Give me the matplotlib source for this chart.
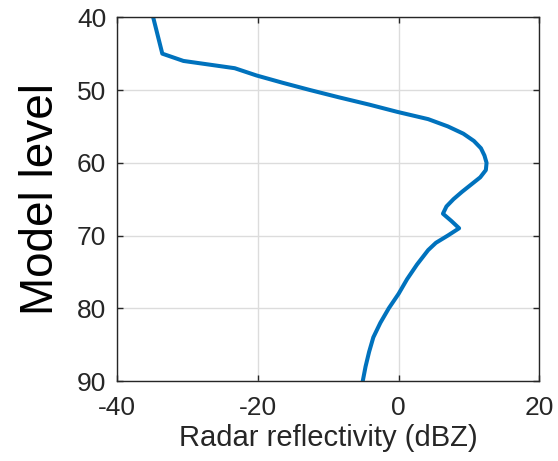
import matplotlib
matplotlib.use("Agg")
import matplotlib.pyplot as plt

levels = [40, 45, 46, 47, 48, 49, 50, 51, 52, 53, 54, 55, 56, 57, 58, 59, 60, 61,
          62, 63, 64, 65, 66, 67, 68, 69, 70, 71, 72, 74, 76, 78, 80, 82, 84, 86, 88, 90]
reflectivity = [-34.9, -33.6, -30.6, -23.3, -20.2, -16.5, -12.6, -8.5, -4.2, -0.2,
                4.2, 7.0, 9.2, 10.7, 11.7, 12.2, 12.5, 12.4, 11.6, 10.3, 9.0, 7.8,
                6.8, 6.3, 7.5, 8.6, 7.0, 5.3, 4.2, 2.6, 1.2, 0.0, -1.4, -2.6, -3.6,
                -4.2, -4.7, -5.1]
xticks = [-40, -20, 0, 20]
yticks = [40, 50, 60, 70, 80, 90]

plt.rcParams['font.family'] = ['Liberation Sans', 'DejaVu Sans']
plt.rcParams['axes.unicode_minus'] = False

fig = plt.figure(figsize=(5.58, 4.61), dpi=100)
ax = fig.add_axes([0.2102, 0.1735, 0.7563, 0.789])
ax.plot(reflectivity, levels, color='#0072BD', linewidth=2.9, solid_joinstyle='round')
ax.set_xlim(-40, 20)
ax.set_ylim(90, 40)
ax.set_xticks(xticks)
ax.set_yticks(yticks)
ax.grid(True, color='#dcdcdc', linewidth=1.0)
ax.set_axisbelow(True)
ax.tick_params(direction='in', top=True, right=True, length=4, width=1,
               colors='#262626', labelsize=19)
ax.tick_params(axis='y', pad=8)
ax.tick_params(axis='x', pad=11)
for s in ax.spines.values():
    s.set_color('#262626')
    s.set_linewidth(1.0)
ax.set_xlabel('Radar reflectivity (dBZ)', fontsize=21, color='#262626', labelpad=3)
ax.set_ylabel('Model level', fontsize=33, color='black', labelpad=10)
fig.savefig('out.png', dpi=100)
